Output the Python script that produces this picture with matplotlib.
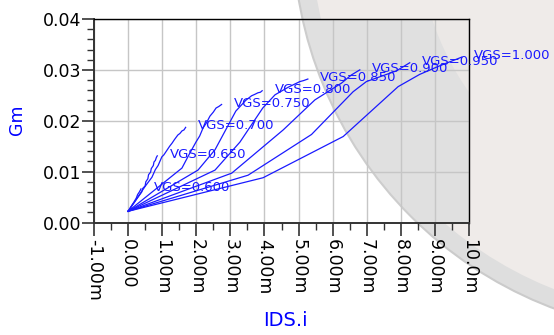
import matplotlib
matplotlib.use("Agg")
import matplotlib.pyplot as plt
from matplotlib.patches import Ellipse

# ---------------- data (IDS in mA, Gm in S) ----------------
vgs_labels = ["VGS=0.600", "VGS=0.650", "VGS=0.700", "VGS=0.750", "VGS=0.800",
              "VGS=0.850", "VGS=0.900", "VGS=0.950", "VGS=1.000"]

ids_060 = [0.0, 0.12, 0.17, 0.24, 0.28, 0.33, 0.378]
gm_060 = [0.0022, 0.0035, 0.0040, 0.0048, 0.0055, 0.0060, 0.0066]

ids_065 = [0.0, 0.25, 0.40, 0.43, 0.50, 0.52, 0.58, 0.60, 0.66, 0.68, 0.74, 0.76, 0.80, 0.83, 0.856]
gm_065 = [0.0022, 0.0046, 0.0060, 0.0067, 0.0072, 0.0080, 0.0086, 0.0094, 0.0099, 0.0106,
          0.0112, 0.0119, 0.0122, 0.0128, 0.0131]

ids_070 = [0.0, 0.50, 0.70, 0.80, 0.88, 0.99, 1.05, 1.17, 1.22, 1.29, 1.36, 1.46, 1.52, 1.58, 1.64, 1.688]
gm_070 = [0.0022, 0.0071, 0.0089, 0.0104, 0.0112, 0.0129, 0.0133, 0.0145, 0.0150, 0.0156,
          0.0163, 0.0172, 0.0175, 0.0180, 0.0182, 0.0187]

ids_075 = [0.0, 1.58, 1.80, 1.99, 2.10, 2.20, 2.30, 2.40, 2.50, 2.58, 2.66, 2.743]
gm_075 = [0.0022, 0.0107, 0.0135, 0.0158, 0.0170, 0.0186, 0.0196, 0.0209, 0.0217, 0.0225, 0.0228, 0.0232]

ids_080 = [0.0, 2.05, 2.55, 3.16, 3.45, 3.62, 3.72, 3.81, 3.88, 3.933]
gm_080 = [0.0022, 0.0103, 0.0143, 0.0219, 0.0240, 0.0249, 0.0252, 0.0255, 0.0256, 0.0259]

ids_085 = [0.0, 2.55, 3.28, 3.95, 4.31, 4.70, 5.04, 5.15, 5.273]
gm_085 = [0.0022, 0.0103, 0.0158, 0.0225, 0.0251, 0.0266, 0.0277, 0.0279, 0.0282]

ids_090 = [0.0, 3.04, 4.55, 5.48, 6.26, 6.55, 6.797]
gm_090 = [0.0022, 0.0097, 0.0182, 0.0241, 0.0274, 0.0290, 0.0300]

ids_095 = [0.0, 3.52, 5.38, 6.60, 6.99, 7.87, 8.262]
gm_095 = [0.0022, 0.0093, 0.0173, 0.0257, 0.0277, 0.0298, 0.0314]

ids_100 = [0.0, 3.96, 6.31, 7.92, 8.55, 9.14, 9.786]
gm_100 = [0.0022, 0.0088, 0.0169, 0.0267, 0.0291, 0.0308, 0.0325]

x_ticks = [-1, 0, 1, 2, 3, 4, 5, 6, 7, 8, 9, 10]
x_tick_labels = ["-1.00m", "0.000", "1.00m", "2.00m", "3.00m", "4.00m", "5.00m",
                 "6.00m", "7.00m", "8.00m", "9.00m", "10.0m"]
y_ticks = [0.00, 0.01, 0.02, 0.03, 0.04]
y_tick_labels = ["0.00", "0.01", "0.02", "0.03", "0.04"]

curves = [(ids_060, gm_060), (ids_065, gm_065), (ids_070, gm_070), (ids_075, gm_075),
          (ids_080, gm_080), (ids_085, gm_085), (ids_090, gm_090), (ids_095, gm_095),
          (ids_100, gm_100)]

# ---------------- figure ----------------
plt.rcParams['font.family'] = ['DejaVu Sans']
W, H = 554, 335
fig = plt.figure(figsize=(W / 100, H / 100), dpi=100)
fig.patch.set_facecolor("white")

# background watermark disk (figure level)
cx, cy, R = 695 / W, 1 + 68 / H, 402
fig.patches.append(Ellipse((cx, cy), 2 * R / W, 2 * R / H, transform=fig.transFigure,
                           facecolor="#dedede", edgecolor="#cbcbcb", lw=1.5, zorder=-10))
fig.patches.append(Ellipse((cx, cy), 2 * (R - 18) / W, 2 * (R - 18) / H, transform=fig.transFigure,
                           facecolor="#efebe9", edgecolor="none", zorder=-9))

ax = fig.add_axes([94 / W, 1 - 222.5 / H, (469 - 94) / W, (222.5 - 19) / H])
ax.set_facecolor("white")

# watermark as it shows inside the plot area
ax.add_patch(Ellipse((cx, cy), 2 * R / W, 2 * R / H, transform=fig.transFigure,
                     facecolor="#e0e0e0", edgecolor="#cdcdcd", lw=1.5, zorder=0.1))
ax.add_patch(Ellipse((cx, cy), 2 * (R - 125) / W, 2 * (R - 125) / H, transform=fig.transFigure,
                     facecolor="#ebe8e6", edgecolor="none", zorder=0.2))

blue = "#1a1aff"
for (xs, ys), lab in zip(curves, vgs_labels):
    ax.plot(xs, ys, color=blue, lw=0.9, zorder=3)
    ax.annotate(lab, xy=(xs[-1], ys[-1]), xytext=(9, 1), textcoords="offset points",
                ha="left", va="center", color=blue, fontsize=9.5, zorder=4,
                annotation_clip=False)

ax.set_xlim(-1, 10)
ax.set_ylim(0, 0.04)
ax.set_xticks(x_ticks)
ax.set_xticklabels(x_tick_labels)
ax.set_yticks(y_ticks)
ax.set_yticklabels(y_tick_labels)
ax.set_xticks([v + 0.5 for v in x_ticks[:-1]], minor=True)
ax.set_yticks([0.002 * i for i in range(21) if i % 5], minor=True)

ax.grid(True, which="major", color="#c6c6c6", lw=1.0)
ax.set_axisbelow(True)

ax.tick_params(axis="x", which="major", direction="out", length=9, width=1.2,
               color="#333333", labelsize=12.5, pad=3, labelrotation=-90)
ax.tick_params(axis="y", which="major", direction="out", length=9, width=1.2,
               color="#333333", labelsize=12.5, pad=0)
ax.tick_params(which="minor", direction="out", length=5, width=1.0, color="#333333")

for s in ("left", "bottom"):
    ax.spines[s].set_color("#333333")
    ax.spines[s].set_linewidth(1.4)
for s in ("top", "right"):
    ax.spines[s].set_color("black")
    ax.spines[s].set_linewidth(1.0)

fig.text(17 / W, 1 - 120 / H, "Gm", rotation=90, ha="center", va="center",
         color="#0000ff", fontsize=12.5)
fig.text(285 / W, 1 - 320 / H, "IDS.i", ha="center", va="center",
         color="#0000ff", fontsize=14)

fig.savefig("out.png", dpi=100)
